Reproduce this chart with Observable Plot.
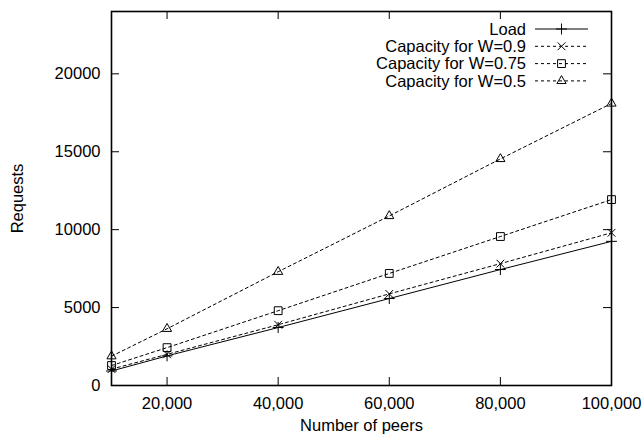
<!DOCTYPE html>
<html><head><meta charset="utf-8">
<script src="https://cdn.jsdelivr.net/npm/d3@7"></script>
<script src="https://cdn.jsdelivr.net/npm/@observablehq/plot@0.6"></script>
<style>
body{margin:0;background:#fff;}
#chart{width:644px;height:440px;}
</style>
</head><body><div id="chart"></div>
<script>
const peers = [10000, 20000, 40000, 60000, 80000, 100000];
const loadValues = [930, 1900, 3720, 5580, 7440, 9250];
const w09Values = [1050, 2000, 3900, 5880, 7820, 9800];
const w075Values = [1280, 2430, 4800, 7190, 9560, 11930];
const w05Values = [1880, 3640, 7300, 10880, 14540, 18100];
const seriesNames = ["Load", "Capacity for W=0.9", "Capacity for W=0.75", "Capacity for W=0.5"];
const seriesSymbols = ["plus", "times", "square", "triangle"];
const seriesDash = [null, "3,3", "3,3", "3,3"];
const xTicks = [20000, 40000, 60000, 80000, 100000];
const yTicks = [0, 5000, 10000, 15000, 20000];

const valueLists = [loadValues, w09Values, w075Values, w05Values];
const symbolR = {plus: 3.6, times: 3.6, square: 4.4, triangle: 3.4};
const series = seriesNames.map((name, k) => ({
  name, symbol: seriesSymbols[k], dash: seriesDash[k],
  rows: peers.map((p, i) => ({peers: p, value: valueLists[k][i]}))
}));

const W = 644, H = 440, mL = 111, mR = 33, mT = 11, mB = 55;
const fw = W - mL - mR, fh = H - mT - mB;
const font = "'Liberation Sans', Arial, Helvetica, sans-serif";
const tick = 8;

const legendMark = () => {
  const g = d3.create("svg:g");
  const right = W - mR;
  series.forEach((s, i) => {
    const y = mT + 18 + i * 17.3;
    g.append("text").attr("x", right - 85).attr("y", y).attr("dy", "0.35em")
      .attr("text-anchor", "end").attr("fill", "#000")
      .attr("font-family", font).attr("font-size", 16.5).text(s.name);
    g.append("line").attr("x1", right - 76).attr("x2", right - 23).attr("y1", y).attr("y2", y)
      .attr("stroke", "#000").attr("stroke-width", 1)
      .attr("stroke-dasharray", s.dash);
    const sym = {plus: d3.symbolPlus, times: d3.symbolTimes, square: d3.symbolSquare, triangle: d3.symbolTriangle}[s.symbol];
    const r = symbolR[s.symbol];
    g.append("path").attr("transform", `translate(${right - 49.5},${y})`)
      .attr("d", d3.symbol(sym, r * r * Math.PI)()).attr("fill", "none").attr("stroke", "#000");
  });
  return g.node();
};

const marks = [
  Plot.axisX(xTicks, {tickSize: 0, tickPadding: 12, tickFormat: d3.format(","), label: "Number of peers", labelAnchor: "center", labelOffset: 45, labelArrow: false}),
  Plot.axisY(yTicks, {tickSize: 0, tickPadding: 11, tickFormat: d => String(d), label: "Requests", labelAnchor: "center", labelOffset: 100, labelArrow: false}),
  Plot.tickX(xTicks, {x: d => d, insetTop: fh - tick, stroke: "#000"}),
  Plot.tickX(xTicks, {x: d => d, insetBottom: fh - tick, stroke: "#000"}),
  Plot.tickY(yTicks, {y: d => d, insetRight: fw - tick, stroke: "#000"}),
  Plot.tickY(yTicks, {y: d => d, insetLeft: fw - tick, stroke: "#000"}),
];
for (const s of series) {
  marks.push(Plot.line(s.rows, {x: "peers", y: "value", stroke: "#000", strokeWidth: 1, strokeDasharray: s.dash || undefined}));
  marks.push(Plot.dot(s.rows, {x: "peers", y: "value", symbol: () => s.symbol, stroke: "#000", fill: "none", r: symbolR[s.symbol], strokeWidth: 1}));
}
marks.push(Plot.frame({stroke: "#000", strokeWidth: 1.6}));
marks.push(legendMark);

const chart = Plot.plot({
  width: W, height: H,
  marginLeft: mL, marginRight: mR, marginTop: mT, marginBottom: mB,
  style: {fontFamily: font, fontSize: "16.5px", color: "#000", background: "#fff", overflow: "visible"},
  x: {domain: [10000, 100000]},
  y: {domain: [0, 24000]},
  symbol: {type: "identity"},
  marks
});
document.getElementById("chart").appendChild(chart);
</script>
</body></html>
